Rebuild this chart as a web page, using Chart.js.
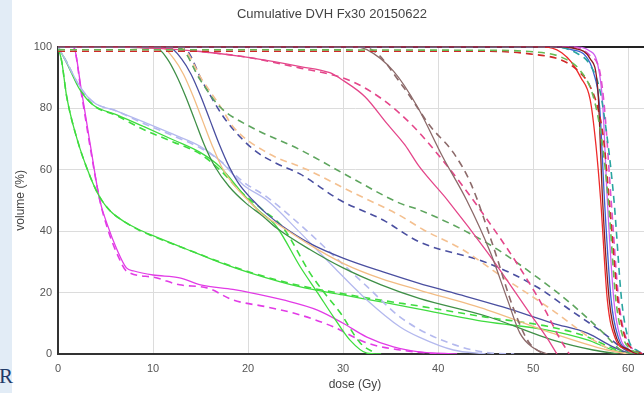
<!DOCTYPE html>
<html>
<head>
<meta charset="utf-8">
<script src="https://cdn.jsdelivr.net/npm/chart.js@4/dist/chart.umd.min.js"></script>
<style>
  html, body { margin: 0; padding: 0; width: 644px; height: 393px; overflow: hidden; background: #fff; }
  #strip { position: absolute; left: 0; top: 0; width: 12px; height: 393px; background: #e2ecf6; }
  #mark { position: absolute; left: -1px; top: 364px; font: 21px 'Liberation Serif', serif; color: #1f3a68; }
  #wrap { position: absolute; left: 12px; top: 0; width: 652px; height: 393px; }
</style>
</head>
<body>
<div id="strip"></div>
<div id="mark">R</div>
<div id="wrap"><canvas id="dvh"></canvas></div>
<script>
// DVH curves: [dose (Gy), volume (%)]
const magentaSolid = [[0,100],[1.6,100],[2.5,85],[3.4,68],[4.4,50],[5.2,42],[6.2,34],[7.2,28],[8,27],[10,25.7],[12.8,24.8],[15,22.5],[18.4,21],[20.2,20],[23.7,17.6],[27.3,14.3],[30,10],[32.5,5.5],[35.3,2.3],[38,0.7],[42,0]];
const magentaDash = [[0,100],[1.6,100],[2.5,84],[3.4,67],[4.4,50],[5.3,40],[6.3,32],[7.2,27],[10,25],[12.8,22.5],[15.7,21.5],[18.4,17.6],[22,15.3],[25.5,12.7],[29,8.8],[32.5,3.6],[36,1.3],[40,0]];
const greenASolid = [[0,100],[0.4,95],[0.9,84],[2,70],[3.4,57.6],[4.4,51],[5.5,46.5],[7,43],[8.5,40.5],[10,38.5],[13.6,34],[17,29.8],[20.2,26.4],[25.5,21.8],[30,19.2],[34.6,16.6],[38,14.6],[45,10.5],[51.5,7.8],[55.7,4.6],[58.4,1.3],[60,0.3],[61,0]];
const greenADash = [[0,100],[0.4,95],[0.9,84],[2,70],[3.4,57.6],[4.4,51],[5.5,46.5],[7,43],[8.5,40.3],[10,38.3],[13.6,34],[17,30],[20.2,26.6],[25.5,22.2],[30,19.6],[34.6,17.2],[38,15.6],[45,12],[51.5,9],[55.7,5.6],[58.4,1.8],[60,0.4],[61,0]];
const greenBSolid = [[0,100],[0.9,94.8],[2.3,86],[3.7,81],[6.2,77.8],[9,74],[12.1,69.7],[15,65.5],[17,61],[19.5,52],[21,47],[23,41.4],[25.5,28.3],[27.3,20],[29,12],[30.7,4.6],[32.5,0.3],[34,0]];
const greenBDash = [[0,100],[0.9,95],[2.3,86.5],[3.7,81],[6.2,77.5],[9,73],[12.1,69],[15,65],[17,60],[19.5,52],[21.5,47],[23.7,41],[26.5,26.4],[28,20],[29.7,13.4],[31.8,3.6],[33.5,0]];
const lavenderSolid = [[0,100],[0.9,95],[2.3,87],[3.7,82],[6.2,79],[9,75.5],[12.1,71.5],[15,67.5],[17,63],[19.5,55],[22,50],[25.5,39.4],[29,28.3],[32.5,17.6],[36,8.8],[38,5.5],[41.6,1.3],[45,0]];
const lavenderDash = [[0,100],[0.9,95],[2.3,87],[3.7,82],[6.2,79],[9,75],[12.1,71],[15,67],[17,63],[19.5,56],[22,51],[25.5,42],[29,32],[32.5,22],[36,12],[40,5],[45,0.5],[48,0]];
const oliveSolid = [[0,100],[10.4,99.5],[11.5,96],[12.4,91],[13.4,84],[14.4,76],[15.4,68],[16.5,61],[18,54.5],[19.8,49],[21.5,45],[23,41],[26.5,34],[30,28],[34,22.5],[38,18.1],[45.2,12.2],[52,4.6],[56.3,1.3],[59,0]];
const oliveDash = [[0,100],[12.8,99.5],[15,89],[17,80.5],[20.2,74],[25.5,66.4],[30.7,57.6],[36,49],[38,46.9],[45.2,36],[50.4,25],[53.9,16.6],[57.4,6.8],[59.2,1.3],[60.5,0]];
const peachSolid = [[0,100],[11,99.5],[12.2,96],[13.2,91],[14.2,84],[15.2,76],[16.2,68],[17.2,61],[18.5,55],[20,50],[21.5,45.5],[23.5,41.5],[26.5,35.5],[30,29.5],[34,24.5],[38,20.8],[45.2,14.3],[52,6.8],[57.8,1.3],[60,0]];
const peachDash = [[0,100],[13,99.5],[15.2,89],[17.2,80],[18.4,74],[22,65.5],[26.2,60],[30.7,53],[36,45],[38.4,40.5],[42.6,33.9],[46.8,25],[52,14.3],[56.3,4.6],[58.5,1],[60,0]];
const navySolid = [[0,100],[11.8,99.5],[13,96],[14,91],[15,84],[16,76],[17,68],[18,61],[19,55.5],[20.5,50],[22,45.5],[23.7,41.4],[26.5,36],[30,31.2],[34.2,26.7],[38,23],[41.6,19.9],[46.8,15.3],[52.1,10],[55.7,6.8],[58.4,2.3],[60,0.3],[61,0]];
const navyDash = [[0,100],[13.2,99.5],[15.3,88],[17.4,77.2],[19.2,70.5],[21,65.5],[23,62],[25.5,58.5],[29.7,50],[34.2,43.6],[38,36.5],[45.2,29.6],[50.4,21.8],[53.9,14.3],[57.4,6.8],[59.2,2.3],[60.5,0]];
const pinkSolid = [[0,100],[5,100],[10,99.5],[15,98.4],[20.2,96.4],[25.5,93.5],[28.6,91.5],[30,89],[32.3,83.7],[34.6,75],[36.5,68],[38,61],[41,50],[45.2,33],[49.7,13],[51.5,5],[52.5,0]];
const pinkDash = [[0,100],[5,100],[10,99.5],[15,98.4],[20.2,96.4],[25.5,93],[28.6,91],[31,88.6],[34.2,82.7],[37.4,74],[41,61],[44.4,47],[48.6,28],[51.3,14],[52.8,5],[53.8,0]];
const brownSolid = [[0,100],[31,100],[32.5,99],[35.3,92],[37.8,80.5],[40.5,64],[43,50],[45.5,33],[47.3,17.6],[48.6,6.8],[50,2],[51.5,0]];
const brownDash = [[0,100],[31,100],[33,99],[36.3,87],[39.2,74],[41.6,65.5],[43.5,55],[45.8,35],[47.9,15],[49.5,4],[51,0]];
const redSolid = [[0,100],[50,100],[52,99.5],[53,98],[54,95],[55,90],[56,82.7],[56.6,68],[57.1,50],[57.8,17.6],[58.7,4.6],[59.8,1.5],[61,0]];
const redDash = [[0,98.5],[45,98.5],[50,97.5],[52.8,95.8],[54.6,92.5],[56,87],[56.8,80],[57.4,70],[58,50],[58.9,17.6],[59.7,5],[60.5,1.5],[61.5,0]];
const blueSolid = [[0,100],[52,100],[54,99],[55.5,97],[56.3,92],[57,80],[57.5,50],[58.2,17.6],[59,5],[60,1.5],[61,0]];
const violetSolid = [[0,100],[54,100],[56,98.5],[56.8,94],[57.3,82],[57.8,50],[58.5,17],[59.2,5],[60,1.5],[61,0]];
const tealDash = [[0,100],[52,100],[54.5,98],[56,94],[57,86],[57.8,70],[58.5,50],[59.3,17.6],[60,5],[61,1],[62,0]];
const violetDash = [[0,100],[54,100],[56,97],[57,92],[57.5,80],[58.2,50],[59,17.6],[59.8,5],[61.5,0]];
const greenTopDash = [[0,99],[45,98.8],[50,98.3],[53,96.5],[55,92],[56.3,84],[57.2,70],[57.9,50],[58.7,17.6],[59.5,5],[60.3,1.5],[61.5,0]];
const darkRedSolid = [[0,100],[52,100],[54.5,99.3],[56,96],[56.8,86],[57.3,50],[58,17.6],[58.8,5],[60,1.5],[61,0]];

const xTicks = [0, 10, 20, 30, 40, 50, 60];
const yTicks = [0, 20, 40, 60, 80, 100];

const DASH = [7, 5];

const curve = (pts, color, dashed) => ({
    data: pts.map(p => ({ x: p[0], y: p[1] })),
    borderColor: color,
    borderWidth: dashed ? 1.6 : 1.3,
    borderDash: dashed ? DASH : [],
    pointRadius: 0,
    fill: false,
    cubicInterpolationMode: 'monotone'
});

const datasets = [
    curve(greenTopDash, '#66bb55', true),
    curve(darkRedSolid, '#8a1c1c', false),
    curve(redDash, '#d02828', true),
    curve(tealDash, '#2aa5a0', true),
    curve(violetDash, '#e050d0', true),
    curve(redSolid, '#ee2a2a', false),
    curve(blueSolid, '#3a5fd0', false),
    curve(violetSolid, '#d060f0', false),
    curve(brownSolid, '#8c6a6a', false),
    curve(brownDash, '#8c6a6a', true),
    curve(pinkSolid, '#e4468a', false),
    curve(pinkDash, '#e4468a', true),
    curve(oliveDash, '#5ea55e', true),
    curve(peachDash, '#f4c090', true),
    curve(navyDash, '#4a4fa0', true),
    curve(peachSolid, '#f2bc84', false),
    curve(oliveSolid, '#3f8f47', false),
    curve(navySolid, '#4a4fa0', false),
    curve(lavenderDash, '#b4b9ee', true),
    curve(lavenderSolid, '#b4b9ee', false),
    curve(greenBDash, '#3fdc3f', true),
    curve(greenBSolid, '#3fdc3f', false),
    curve(greenADash, '#3fdc3f', true),
    curve(greenASolid, '#3fdc3f', false),
    curve(magentaDash, '#e23be6', true),
    curve(magentaSolid, '#e23be6', false)
];

const tickFont = { family: "'Liberation Sans', Arial, sans-serif", size: 11 };

new Chart(document.getElementById('dvh'), {
    type: 'line',
    data: { datasets },
    options: {
        responsive: true,
        maintainAspectRatio: false,
        animation: false,
        layout: { padding: { left: 0, right: 12, top: 0, bottom: 0 } },
        plugins: {
            legend: { display: false },
            tooltip: { enabled: false },
            title: {
                display: true,
                text: 'Cumulative DVH Fx30 20150622',
                color: '#444',
                font: { family: "'Liberation Sans', Arial, sans-serif", size: 13, weight: 'normal' },
                padding: { top: 7, bottom: 24 }
            }
        },
        scales: {
            x: {
                type: 'linear',
                min: 0,
                max: 62.5,
                afterBuildTicks: axis => { axis.ticks = xTicks.map(v => ({ value: v })); },
                afterFit: axis => { axis.height = 39; },
                ticks: { color: '#555', font: tickFont, padding: 8 },
                grid: { color: '#dcdcdc', drawTicks: false },
                border: { color: '#333', width: 2 },
                title: {
                    display: true,
                    text: 'dose (Gy)',
                    color: '#444',
                    font: { family: "'Liberation Sans', Arial, sans-serif", size: 12 },
                    padding: { top: 0, bottom: 1 }
                }
            },
            y: {
                min: 0,
                max: 100,
                afterBuildTicks: axis => { axis.ticks = yTicks.map(v => ({ value: v })); },
                afterFit: axis => { axis.width = 46; },
                ticks: { color: '#555', font: tickFont, padding: 6 },
                grid: {
                    drawTicks: false,
                    color: ctx => ctx.tick && ctx.tick.value === 100 ? '#222' : '#dcdcdc',
                    lineWidth: ctx => ctx.tick && ctx.tick.value === 100 ? 2 : 1
                },
                border: { color: '#333', width: 2 },
                title: {
                    display: true,
                    text: 'volume (%)',
                    color: '#444',
                    font: { family: "'Liberation Sans', Arial, sans-serif", size: 12 },
                    padding: { top: 1, bottom: 0 }
                }
            }
        }
    }
});
</script>
</body>
</html>
